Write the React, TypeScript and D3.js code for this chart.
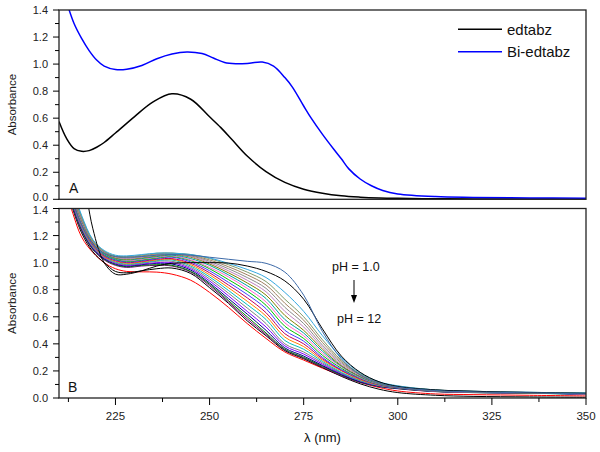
import React from 'react';
import * as d3 from 'd3';

const WIDTH = 600;
const HEIGHT = 452;
const PL = 59;
const PR = 586;
const TOP_Y0 = 10;
const TOP_Y1 = 199.3;
const BOT_Y0 = 208.5;
const BOT_Y1 = 398;

// Panel A
const edtabzWl = [210, 212, 214, 216, 218, 220, 222, 225, 230, 235, 240, 245, 250, 253, 256, 260, 265, 270, 275, 280, 285, 290, 295, 300, 310, 320, 335, 350];
const edtabzAbs = [0.575, 0.45, 0.375, 0.355, 0.36, 0.385, 0.42, 0.49, 0.61, 0.72, 0.78, 0.74, 0.61, 0.53, 0.44, 0.32, 0.205, 0.125, 0.075, 0.045, 0.026, 0.016, 0.01, 0.007, 0.004, 0.003, 0.002, 0.001];
const biWl = [210, 212, 214, 216, 218, 220, 222, 225, 228, 232, 236, 240, 244, 248, 251, 254, 257, 260, 264, 267, 270, 272, 275, 277, 280, 283, 285, 287, 290, 293, 296, 300, 310, 320, 335, 350];
const biAbs = [1.65, 1.46, 1.3, 1.19, 1.1, 1.03, 0.985, 0.96, 0.962, 0.99, 1.04, 1.075, 1.09, 1.078, 1.045, 1.012, 1.003, 1.005, 1.015, 0.985, 0.9, 0.83, 0.69, 0.6, 0.48, 0.37, 0.3, 0.225, 0.15, 0.1, 0.065, 0.04, 0.02, 0.014, 0.01, 0.008];

// Panel B: pH 1.0 (first) ... pH 12 (last)
const phWl = [210, 213, 216, 219, 222, 225, 228, 232, 236, 240, 245, 250, 255, 260, 265, 270, 275, 280, 285, 290, 295, 300, 310, 320, 335, 350];
const ph01 = [1.8, 1.5, 1.28, 1.14, 1.07, 1.045, 1.04, 1.045, 1.055, 1.06, 1.055, 1.04, 1.025, 1.01, 0.995, 0.93, 0.76, 0.49, 0.29, 0.17, 0.11, 0.08, 0.055, 0.045, 0.038, 0.03];
const ph02 = [2.6, 2.1, 1.72, 1.25, 1.0, 0.915, 0.915, 0.94, 0.975, 0.995, 1.0, 1.0, 0.997, 0.975, 0.935, 0.865, 0.73, 0.51, 0.31, 0.19, 0.12, 0.085, 0.06, 0.05, 0.04, 0.035];
const ph03 = [1.9, 1.6, 1.35, 1.17, 1.09, 1.055, 1.05, 1.06, 1.07, 1.07, 1.06, 1.035, 0.995, 0.95, 0.89, 0.78, 0.64, 0.46, 0.3, 0.185, 0.12, 0.09, 0.06, 0.05, 0.042, 0.035];
const ph04 = [1.89, 1.59, 1.34, 1.165, 1.085, 1.05, 1.045, 1.055, 1.07, 1.07, 1.06, 1.03, 0.985, 0.93, 0.86, 0.73, 0.6, 0.43, 0.28, 0.18, 0.118, 0.088, 0.06, 0.05, 0.04, 0.033];
const ph05 = [1.88, 1.58, 1.335, 1.16, 1.08, 1.045, 1.04, 1.05, 1.065, 1.07, 1.055, 1.02, 0.97, 0.91, 0.835, 0.7, 0.575, 0.41, 0.27, 0.175, 0.115, 0.087, 0.058, 0.048, 0.04, 0.032];
const ph06 = [1.86, 1.57, 1.33, 1.16, 1.08, 1.045, 1.035, 1.045, 1.06, 1.065, 1.05, 1.01, 0.955, 0.89, 0.81, 0.67, 0.55, 0.39, 0.26, 0.17, 0.113, 0.086, 0.058, 0.048, 0.042, 0.035];
const ph07 = [1.85, 1.56, 1.32, 1.155, 1.075, 1.04, 1.03, 1.04, 1.055, 1.065, 1.045, 1.0, 0.94, 0.87, 0.785, 0.64, 0.525, 0.375, 0.25, 0.165, 0.11, 0.085, 0.057, 0.047, 0.04, 0.03];
const ph08 = [1.84, 1.555, 1.315, 1.15, 1.07, 1.035, 1.025, 1.035, 1.05, 1.06, 1.04, 0.99, 0.925, 0.85, 0.76, 0.61, 0.5, 0.36, 0.24, 0.16, 0.108, 0.084, 0.056, 0.046, 0.04, 0.032];
const ph09 = [1.83, 1.545, 1.31, 1.145, 1.065, 1.03, 1.02, 1.03, 1.045, 1.055, 1.03, 0.98, 0.91, 0.83, 0.735, 0.58, 0.48, 0.345, 0.235, 0.155, 0.106, 0.083, 0.055, 0.046, 0.042, 0.036];
const ph10 = [1.82, 1.54, 1.3, 1.14, 1.065, 1.03, 1.015, 1.025, 1.04, 1.05, 1.02, 0.965, 0.895, 0.81, 0.71, 0.555, 0.46, 0.33, 0.23, 0.15, 0.104, 0.082, 0.055, 0.045, 0.04, 0.03];
const ph11 = [1.8, 1.53, 1.295, 1.14, 1.06, 1.025, 1.01, 1.02, 1.035, 1.045, 1.015, 0.955, 0.875, 0.79, 0.685, 0.53, 0.44, 0.315, 0.22, 0.148, 0.102, 0.08, 0.054, 0.045, 0.038, 0.032];
const ph12 = [1.79, 1.52, 1.29, 1.135, 1.055, 1.02, 1.005, 1.015, 1.03, 1.04, 1.005, 0.94, 0.855, 0.765, 0.66, 0.5, 0.42, 0.3, 0.21, 0.145, 0.1, 0.079, 0.053, 0.044, 0.04, 0.034];
const ph13 = [1.78, 1.51, 1.28, 1.13, 1.05, 1.015, 1.0, 1.01, 1.025, 1.03, 0.995, 0.925, 0.835, 0.74, 0.63, 0.475, 0.4, 0.29, 0.205, 0.14, 0.098, 0.078, 0.052, 0.044, 0.041, 0.03];
const ph14 = [1.77, 1.505, 1.275, 1.125, 1.045, 1.01, 0.995, 1.005, 1.02, 1.025, 0.985, 0.91, 0.815, 0.715, 0.605, 0.45, 0.38, 0.28, 0.2, 0.135, 0.096, 0.077, 0.052, 0.043, 0.038, 0.031];
const ph15 = [1.76, 1.5, 1.27, 1.12, 1.045, 1.005, 0.99, 1.0, 1.015, 1.02, 0.975, 0.895, 0.795, 0.69, 0.58, 0.425, 0.36, 0.27, 0.19, 0.13, 0.094, 0.076, 0.051, 0.043, 0.04, 0.035];
const ph16 = [1.75, 1.49, 1.26, 1.115, 1.04, 1.0, 0.985, 0.995, 1.01, 1.01, 0.965, 0.88, 0.775, 0.665, 0.55, 0.4, 0.34, 0.26, 0.185, 0.128, 0.092, 0.075, 0.05, 0.042, 0.038, 0.03];
const ph17 = [1.74, 1.48, 1.255, 1.11, 1.035, 0.995, 0.98, 0.99, 1.0, 1.0, 0.955, 0.865, 0.755, 0.64, 0.525, 0.385, 0.325, 0.25, 0.18, 0.125, 0.09, 0.074, 0.05, 0.042, 0.037, 0.029];
const ph18 = [1.73, 1.475, 1.25, 1.105, 1.03, 0.99, 0.975, 0.985, 0.995, 0.99, 0.945, 0.85, 0.735, 0.62, 0.5, 0.37, 0.31, 0.24, 0.175, 0.12, 0.088, 0.072, 0.049, 0.041, 0.036, 0.028];
const ph19 = [1.72, 1.465, 1.24, 1.1, 1.025, 0.985, 0.97, 0.98, 0.985, 0.98, 0.935, 0.84, 0.72, 0.6, 0.48, 0.36, 0.3, 0.235, 0.17, 0.118, 0.086, 0.07, 0.048, 0.04, 0.035, 0.027];
const ph20 = [1.71, 1.46, 1.235, 1.095, 1.02, 0.98, 0.965, 0.975, 0.98, 0.975, 0.93, 0.83, 0.71, 0.585, 0.47, 0.355, 0.295, 0.23, 0.165, 0.115, 0.084, 0.068, 0.047, 0.04, 0.036, 0.03];
const ph21 = [1.7, 1.45, 1.22, 1.08, 1.0, 0.935, 0.925, 0.94, 0.955, 0.96, 0.92, 0.815, 0.7, 0.57, 0.46, 0.35, 0.29, 0.225, 0.16, 0.105, 0.065, 0.04, 0.02, 0.012, 0.008, 0.005];
const ph22 = [1.65, 1.42, 1.19, 1.075, 1.0, 0.955, 0.935, 0.932, 0.93, 0.915, 0.87, 0.78, 0.67, 0.55, 0.44, 0.34, 0.28, 0.22, 0.165, 0.115, 0.078, 0.052, 0.03, 0.025, 0.02, 0.015];
const phSeries = [ph01, ph02, ph03, ph04, ph05, ph06, ph07, ph08, ph09, ph10, ph11, ph12, ph13, ph14, ph15, ph16, ph17, ph18, ph19, ph20, ph21, ph22];
const phColors = ['#3d6aa8', '#000000', '#33a8e0', '#7f9a6a', '#a08060', '#8a8a8a', '#c080c0', '#808000', '#00a0a0', '#ff66cc', '#00c000', '#4040ff', '#c00060', '#ff8000', '#00c0c0', '#808080', '#8000ff', '#000080', '#008000', '#800080', '#000000', '#ff0000'];

const yMajor = [0, 0.2, 0.4, 0.6, 0.8, 1.0, 1.2, 1.4];
const yMinor = [0.1, 0.3, 0.5, 0.7, 0.9, 1.1, 1.3];
const xMajor = [225, 250, 275, 300, 325, 350];
const xMinor = [212.5, 237.5, 262.5, 287.5, 312.5, 337.5];

const FONT = "'Liberation Sans', Arial, sans-serif";

const x = d3.scaleLinear().domain([210, 350]).range([PL, PR]);
const yTop = d3.scaleLinear().domain([0, 1.4]).range([TOP_Y1, TOP_Y0]);
const yBot = d3.scaleLinear().domain([0, 1.4]).range([BOT_Y1, BOT_Y0]);

function makePath(wl: number[], vals: number[], y: d3.ScaleLinear<number, number>) {
  const pts = wl.map((w, i) => [w, vals[i]] as [number, number]);
  return d3.line<[number, number]>()
    .x((d) => x(d[0]))
    .y((d) => y(d[1]))
    .curve(d3.curveCatmullRom.alpha(0.5))(pts) || '';
}

// nudge: shift the label at the panel's shared edge to avoid touching the other panel's label
function YAxis({ y, nudgeBottom = 0, nudgeTop = 0 }: { y: d3.ScaleLinear<number, number>; nudgeBottom?: number; nudgeTop?: number }) {
  return (
    <g>
      {yMajor.map((v) => {
        const off = v === 0 ? nudgeBottom : v === 1.4 ? nudgeTop : 0;
        return (
          <g key={'M' + v}>
            <line x1={PL - 6} x2={PL} y1={y(v)} y2={y(v)} stroke="#000" strokeWidth={1} />
            <text x={PL - 11} y={y(v) + off} dy="0.36em" textAnchor="end" fontSize={11} fontFamily={FONT} fill="#222">{v.toFixed(1)}</text>
          </g>
        );
      })}
      {yMinor.map((v) => (
        <line key={'m' + v} x1={PL - 4} x2={PL} y1={y(v)} y2={y(v)} stroke="#000" strokeWidth={1} />
      ))}
    </g>
  );
}

export default function App() {
  const topMid = (TOP_Y0 + TOP_Y1) / 2;
  const botMid = (BOT_Y0 + BOT_Y1) / 2;
  return (
    <svg width={WIDTH} height={HEIGHT} style={{ position: 'absolute', left: 0, top: 0, background: '#fff' }}>
      <defs>
        <clipPath id="clipTop"><rect x={PL} y={TOP_Y0} width={PR - PL} height={TOP_Y1 - TOP_Y0} /></clipPath>
        <clipPath id="clipBot"><rect x={PL} y={BOT_Y0} width={PR - PL} height={BOT_Y1 - BOT_Y0} /></clipPath>
      </defs>
      <rect x={0} y={0} width={WIDTH} height={HEIGHT} fill="#fff" />

      {/* Panel A */}
      <g clipPath="url(#clipTop)">
        <path d={makePath(edtabzWl, edtabzAbs, yTop)} fill="none" stroke="#000" strokeWidth={1.5} />
        <path d={makePath(biWl, biAbs, yTop)} fill="none" stroke="#0000ff" strokeWidth={1.5} />
      </g>
      <rect x={PL} y={TOP_Y0} width={PR - PL} height={TOP_Y1 - TOP_Y0} fill="none" stroke="#222" strokeWidth={1.3} />
      <YAxis y={yTop} nudgeBottom={-2} />
      <text x={12} y={topMid} transform={`rotate(-90 12 ${topMid})`} textAnchor="middle" dy="0.35em" fontSize={11.5} fontFamily={FONT} fill="#222">Absorbance</text>
      <text x={69} y={192.5} fontSize={14} fontFamily={FONT} fill="#111">A</text>
      <line x1={458} x2={502} y1={29.3} y2={29.3} stroke="#000" strokeWidth={1.5} />
      <text x={507} y={29.3} dy="0.35em" fontSize={15} fontFamily={FONT} fill="#111">edtabz</text>
      <line x1={458} x2={502} y1={51.7} y2={51.7} stroke="#0000ff" strokeWidth={1.5} />
      <text x={507} y={51.7} dy="0.35em" fontSize={15} fontFamily={FONT} fill="#111">Bi-edtabz</text>

      {/* Panel B */}
      <g clipPath="url(#clipBot)">
        {phSeries.map((s, i) => (
          <path key={i} d={makePath(phWl, s, yBot)} fill="none" stroke={phColors[i]} strokeWidth={1} />
        )).reverse()}
      </g>
      <rect x={PL} y={BOT_Y0} width={PR - PL} height={BOT_Y1 - BOT_Y0} fill="none" stroke="#222" strokeWidth={1.3} />
      <YAxis y={yBot} nudgeTop={2} />
      <text x={12} y={botMid} transform={`rotate(-90 12 ${botMid})`} textAnchor="middle" dy="0.35em" fontSize={11.5} fontFamily={FONT} fill="#222">Absorbance</text>
      <text x={68} y={391.5} fontSize={14} fontFamily={FONT} fill="#111">B</text>
      {xMajor.map((v) => (
        <g key={'xM' + v}>
          <line x1={x(v)} x2={x(v)} y1={BOT_Y1} y2={BOT_Y1 + 7} stroke="#000" strokeWidth={1} />
          <text x={x(v)} y={419.5} textAnchor="middle" fontSize={11.5} fontFamily={FONT} fill="#222">{v}</text>
        </g>
      ))}
      {xMinor.map((v) => (
        <line key={'xm' + v} x1={x(v)} x2={x(v)} y1={BOT_Y1} y2={BOT_Y1 + 4} stroke="#000" strokeWidth={1} />
      ))}
      <text x={(PL + PR) / 2} y={442} textAnchor="middle" fontSize={13} fontFamily={FONT} fill="#111">λ (nm)</text>

      <text x={332} y={270.5} fontSize={12.5} fontFamily={FONT} fill="#111">pH = 1.0</text>
      <line x1={354} x2={354} y1={280} y2={296} stroke="#000" strokeWidth={1} />
      <polygon points="351,295 357,295 354,303" fill="#000" />
      <text x={337} y={322.5} fontSize={12.5} fontFamily={FONT} fill="#111">pH = 12</text>
    </svg>
  );
}
